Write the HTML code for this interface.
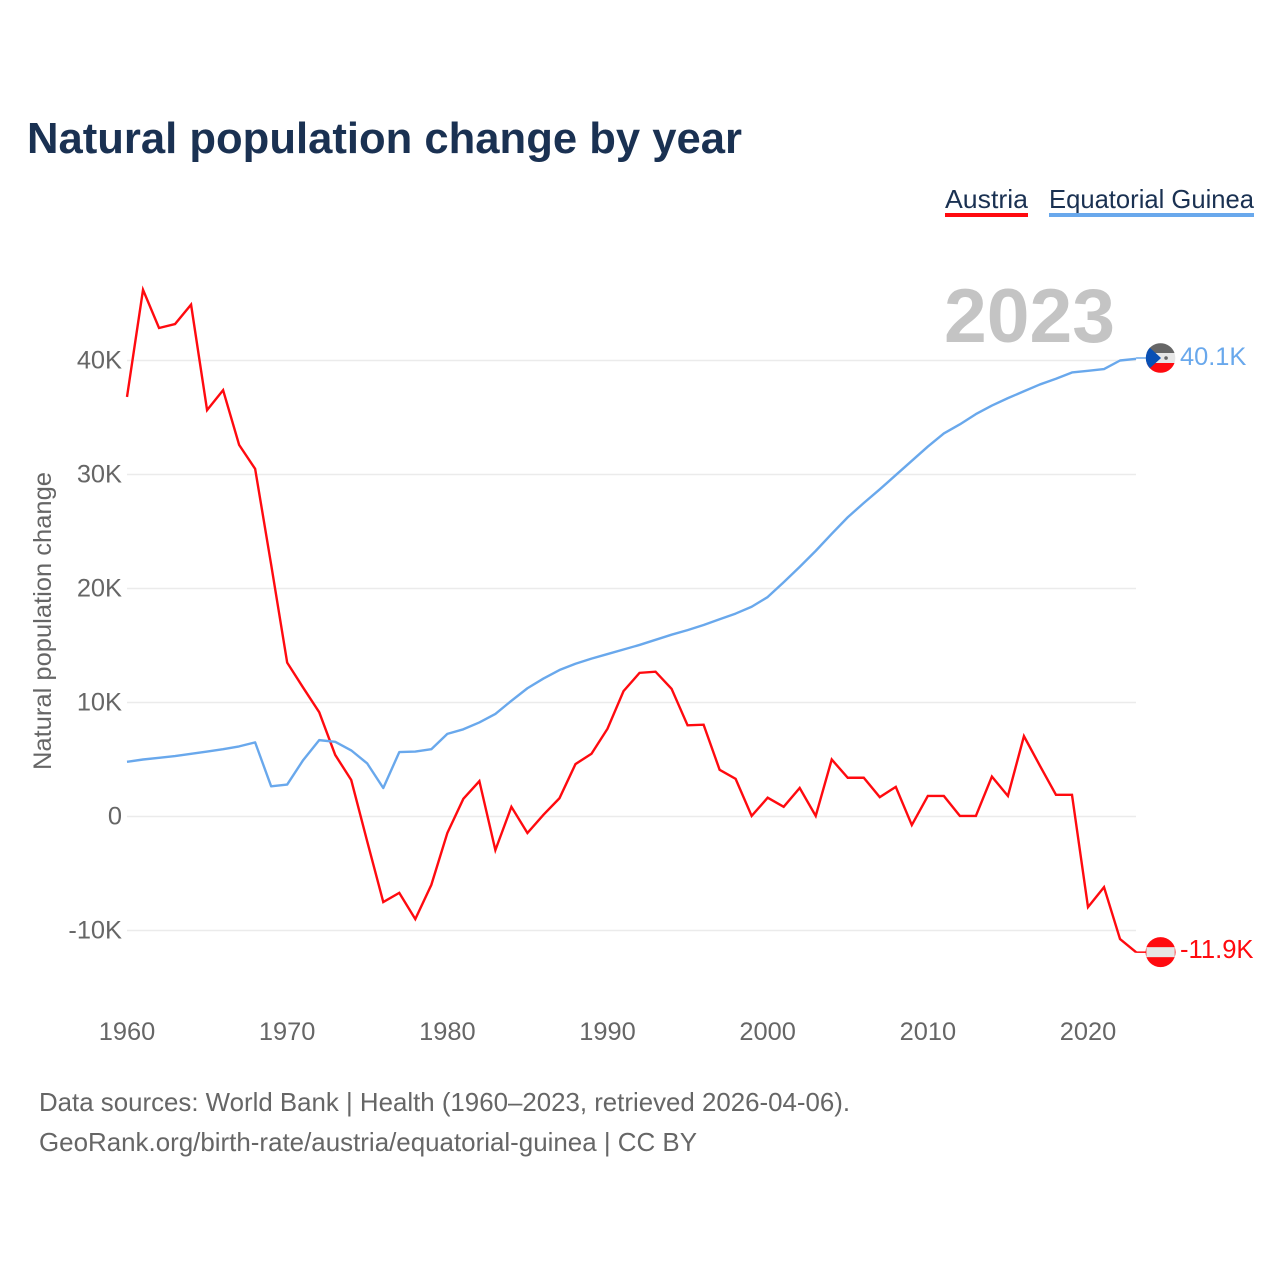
<!DOCTYPE html>
<html lang="en">
<head>
<meta charset="utf-8">
<title>Natural population change by year</title>
<style>
html,body{margin:0;padding:0;background:#fff;}
svg{display:block;font-family:"Liberation Sans",sans-serif;}
</style>
</head>
<body>
<svg id="chart" width="1280" height="1280" viewBox="0 0 1280 1280" xmlns="http://www.w3.org/2000/svg">
  <rect width="1280" height="1280" fill="#fff"/>
  <text x="27" y="153" font-size="44" font-weight="700" fill="#1a3152" textLength="715" lengthAdjust="spacingAndGlyphs">Natural population change by year</text>
  <g>
    <g>
      <text x="945" y="208" font-size="26" fill="#1a3152" textLength="83" lengthAdjust="spacingAndGlyphs">Austria</text>
      <rect x="945" y="213" width="83" height="4" fill="#ff0a0f"/>
    </g>
    <g>
      <text x="1049" y="208" font-size="26" fill="#1a3152" textLength="205" lengthAdjust="spacingAndGlyphs">Equatorial Guinea</text>
      <rect x="1049" y="213" width="205" height="4" fill="#69a8ec"/>
    </g>
  </g>
  <text x="944" y="342" font-size="76" font-weight="700" fill="#c4c4c4" textLength="171" lengthAdjust="spacingAndGlyphs">2023</text>
  <text transform="translate(51,770) rotate(-90)" font-size="25" fill="#666" textLength="298" lengthAdjust="spacingAndGlyphs">Natural population change</text>
  <g id="grid"></g>
  <g id="yticks"></g>
  <g id="xticks"></g>
  <g id="series"></g>
  <g id="ends"></g>
  <g>
    <text x="39" y="1111" font-size="26" fill="#666" textLength="811" lengthAdjust="spacingAndGlyphs">Data sources: World Bank | Health (1960–2023, retrieved 2026-04-06).</text>
    <text x="39" y="1151" font-size="26" fill="#666" textLength="658" lengthAdjust="spacingAndGlyphs">GeoRank.org/birth-rate/austria/equatorial-guinea | CC BY</text>
  </g>
</svg>
<script>
const years = [];
for (let yr = 1960; yr <= 2023; yr++) years.push(yr);
const austria = [36.8,46.2,42.85,43.2,44.9,35.65,37.4,32.6,30.5,22.1,13.5,11.3,9.15,5.4,3.2,-2.2,-7.5,-6.7,-9.0,-6.0,-1.45,1.55,3.1,-2.95,0.85,-1.45,0.15,1.6,4.6,5.5,7.7,11.0,12.6,12.7,11.2,8.0,8.05,4.1,3.3,0.05,1.65,0.85,2.5,0.05,5.0,3.4,3.4,1.7,2.6,-0.75,1.8,1.8,0.05,0.05,3.5,1.8,7.05,4.45,1.9,1.9,-7.95,-6.2,-10.75,-11.9];
const equatorialGuinea = [4.8,5.0,5.15,5.3,5.5,5.7,5.9,6.15,6.5,2.65,2.8,4.95,6.7,6.55,5.8,4.65,2.5,5.65,5.7,5.9,7.25,7.65,8.25,9.0,10.15,11.25,12.1,12.85,13.4,13.85,14.25,14.65,15.05,15.5,15.95,16.35,16.8,17.3,17.8,18.4,19.25,20.55,21.9,23.3,24.8,26.25,27.5,28.7,29.95,31.2,32.45,33.6,34.4,35.3,36.05,36.7,37.3,37.9,38.4,38.95,39.1,39.25,40.0,40.15];
const yTickValues = [-10,0,10,20,30,40];
const yTickLabels = ["-10K","0","10K","20K","30K","40K"];
const xTickValues = [1960,1970,1980,1990,2000,2010,2020];
const endLabelAustria = "-11.9K";
const endLabelGuinea = "40.1K";

const NS = "http://www.w3.org/2000/svg";
function x(yr){ return 127 + (yr - 1960) * 16.0167; }
function y(v){ return 816.5 - v * 11.4; }
function make(tag, parent, attrs){
  const el = document.createElementNS(NS, tag);
  for (const k in attrs) el.setAttribute(k, attrs[k]);
  parent.appendChild(el);
  return el;
}
const grid = document.getElementById("grid");
const yticks = document.getElementById("yticks");
const xticks = document.getElementById("xticks");
const series = document.getElementById("series");
const ends = document.getElementById("ends");

yTickValues.forEach(function(v, i){
  const g = make("line", grid, {x1:127, x2:1136, y1:y(v), y2:y(v), stroke:"#ebebeb", "stroke-width":1.5});
  
  
  const t = make("text", yticks, {x:122, y:y(v)+8, "text-anchor":"end", "font-size":25.4, fill:"#666"});
  
  
  t.textContent = yTickLabels[i];
});
xTickValues.forEach(function(v){
  const t = make("text", xticks, {x:x(v), y:1040, "text-anchor":"middle", "font-size":25.4, fill:"#666"});
  
  
  t.textContent = v;
});
function linePath(vals){
  return vals.map(function(v, i){ return (i ? "L" : "M") + x(years[i]).toFixed(2) + " " + y(v).toFixed(2); }).join("");
}
const lineAustria = make("path", series, {d:linePath(austria), fill:"none", stroke:"#ff0a0f", "stroke-width":2.4, "stroke-linejoin":"miter"});


const lineGuinea = make("path", series, {d:linePath(equatorialGuinea), fill:"none", stroke:"#69a8ec", "stroke-width":2.4, "stroke-linejoin":"round"});



const endX = x(2023);
const flagX = endX + 24.5;
const yG = y(equatorialGuinea[equatorialGuinea.length - 1]) - 0.8;
const yA = y(austria[austria.length - 1]);

const connG = make("line", ends, {x1:endX, x2:flagX - 14, y1:yG, y2:yG, stroke:"#69a8ec", "stroke-width":1.5});


const connA = make("line", ends, {x1:endX, x2:flagX - 14, y1:yA, y2:yA, stroke:"#ff0a0f", "stroke-width":1.5});



/* Equatorial Guinea flag marker */
const flagG = make("g", ends, {transform:"translate(" + flagX + "," + yG + ")"});


make("circle", flagG, {cx:0, cy:0, r:14.8, fill:"#e6e6e6"});
make("path", flagG, {d:"M-13.93 -5 A14.8 14.8 0 0 1 13.93 -5 Z", fill:"#666"});
make("path", flagG, {d:"M-13.93 5 A14.8 14.8 0 0 0 13.93 5 Z", fill:"#ff0a0f"});
make("path", flagG, {d:"M-10.7 -10.2 L0.5 0 L-10.7 10.2 A14.8 14.8 0 0 1 -10.7 -10.2 Z", fill:"#0a50b4"});
make("circle", flagG, {cx:5.5, cy:0, r:1.8, fill:"#666"});

/* Austria flag marker */
const flagA = make("g", ends, {transform:"translate(" + flagX + "," + yA + ")"});


make("circle", flagA, {cx:0, cy:0, r:15, fill:"#ff0a0f"});
make("rect", flagA, {x:-14.2, y:-5, width:28.4, height:10, fill:"#e6e6e6"});

const labG = make("text", ends, {x:1180, y:yG + 7, "font-size":25.4, fill:"#69a8ec"});


labG.textContent = endLabelGuinea;
const labA = make("text", ends, {x:1180, y:yA + 6, "font-size":25.6, fill:"#ff0a0f"});


labA.textContent = endLabelAustria;
</script>
</body>
</html>
